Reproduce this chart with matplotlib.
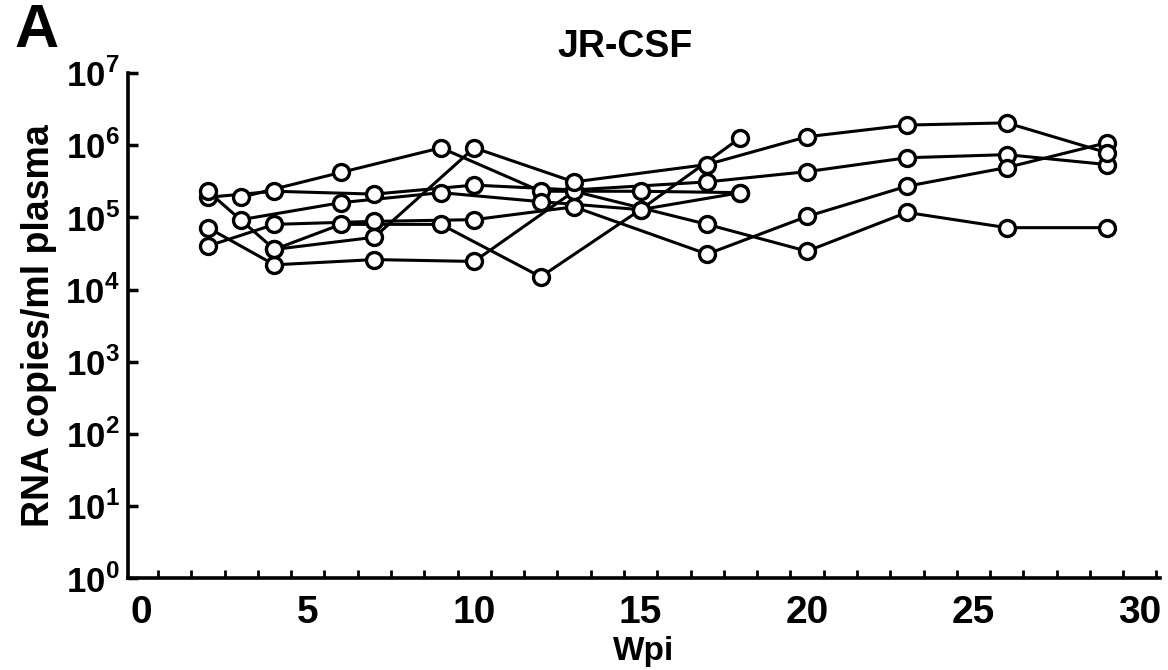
import matplotlib
matplotlib.use("Agg")
import matplotlib.pyplot as plt
import numpy as np

plt.rcParams['font.family'] = ['Liberation Sans', 'DejaVu Sans']
plt.rcParams['mathtext.fontset'] = 'custom'
plt.rcParams['mathtext.rm'] = 'Liberation Sans:bold'
plt.rcParams['mathtext.bf'] = 'Liberation Sans:bold'

# weeks post infection and RNA copies/ml for each animal
wk_a = [2, 4, 7, 10, 13, 17, 20, 23, 26, 29]
rna_a = [1.9e5, 2.3e5, 2.1e5, 2.8e5, 2.4e5, 3.1e5, 4.3e5, 6.7e5, 7.4e5, 5.4e5]

wk_b = [2, 4, 7, 10, 13, 17, 20, 23, 26, 29]
rna_b = [4.0e4, 8.0e4, 8.8e4, 9.3e4, 1.4e5, 3.1e4, 1.03e5, 2.7e5, 4.9e5, 1.08e6]

wk_c = [2, 4, 7, 10, 13, 17, 20, 23, 26, 29]
rna_c = [7.2e4, 2.2e4, 2.6e4, 2.45e4, 2.3e5, 8.0e4, 3.4e4, 1.17e5, 7.2e4, 7.2e4]

wk_d = [2, 4, 7, 10, 13, 17, 20, 23, 26, 29]
rna_d = [2.3e5, 3.6e4, 5.3e4, 9.2e5, 3.1e5, 5.4e5, 1.31e6, 1.9e6, 2.04e6, 7.9e5]

wk_e = [3, 6, 9, 12, 15, 18]
rna_e = [1.9e5, 4.2e5, 9.2e5, 2.3e5, 2.3e5, 2.2e5]

wk_f = [3, 6, 9, 12, 15, 18]
rna_f = [9.3e4, 1.6e5, 2.2e5, 1.65e5, 1.28e5, 2.2e5]

wk_g = [4, 6, 9, 12, 15, 18]
rna_g = [3.6e4, 8.0e4, 8.0e4, 1.5e4, 1.28e5, 1.27e6]

series = [(wk_a, rna_a), (wk_b, rna_b), (wk_c, rna_c), (wk_d, rna_d),
          (wk_e, rna_e), (wk_f, rna_f), (wk_g, rna_g)]

fig = plt.figure(figsize=(11.68, 6.70), dpi=100)
ax = fig.add_axes([0.1096, 0.137, 0.8834, 0.754])

for wk, rna in series:
    ax.plot(wk, rna, color='k', lw=2.2, zorder=2)
for wk, rna in series:
    ax.plot(wk, rna, ls='none', marker='o', ms=11.5, mew=2.4,
            mfc='white', mec='k', zorder=3)

ax.set_yscale('log')
ax.set_ylim(1, 1e7)
ax.set_xlim(-0.4, 30.6)

ax.spines['top'].set_visible(False)
ax.spines['right'].set_visible(False)
ax.spines['left'].set_linewidth(2.6)
ax.spines['bottom'].set_linewidth(2.6)

ax.set_yticks([10.0 ** k for k in range(8)])
ax.set_yticklabels([r'$10^{%d}$' % k for k in range(8)])
ax.yaxis.set_minor_locator(matplotlib.ticker.NullLocator())
ax.tick_params(axis='y', which='major', direction='in', length=7, width=2.5,
               labelsize=25, pad=6)

ax.set_xticks(np.arange(0, 31, 5))
ax.set_xticks(np.arange(0.5, 31, 1), minor=True)
ax.tick_params(axis='x', which='major', length=0, labelsize=28, pad=12)
ax.tick_params(axis='x', which='minor', direction='in', length=6, width=2)
for lab in ax.get_xticklabels():
    lab.set_fontweight('bold')

ax.set_xlabel('Wpi', fontsize=24, fontweight='bold', labelpad=4)
ax.set_ylabel('RNA copies/ml plasma', fontsize=27, fontweight='bold', labelpad=6)

fig.text(0.535, 0.93, 'JR-CSF', fontsize=27, fontweight='bold',
         ha='center', va='center')
fig.text(0.012, 0.995, 'A', fontsize=44, fontweight='heavy',
         ha='left', va='top')

fig.savefig('out.png', dpi=100)
